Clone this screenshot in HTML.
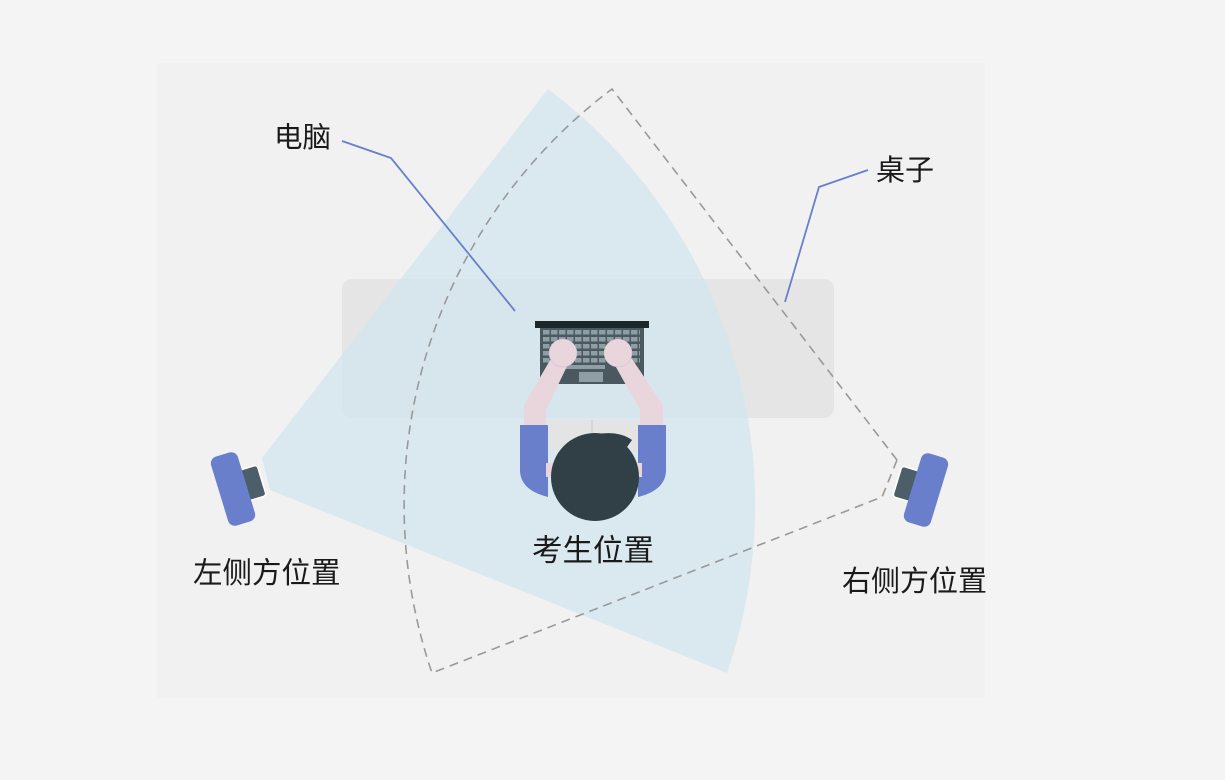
<!DOCTYPE html>
<html><head><meta charset="utf-8"><style>
html,body{margin:0;padding:0;background:#f4f4f4;}
svg{display:block;}
text{font-family:"Liberation Sans","Noto Sans CJK SC",sans-serif;fill:#1a1a1a;}
</style></head><body>
<svg width="1225" height="780" viewBox="0 0 1225 780" xmlns="http://www.w3.org/2000/svg">
<defs>
<pattern id="keys" x="543" y="330" width="8" height="7" patternUnits="userSpaceOnUse">
<rect x="0" y="0" width="6.5" height="4.5" fill="#8e9ea4"/>
</pattern>
</defs>
<rect x="0" y="0" width="1225" height="780" fill="#f4f4f4"/>
<rect x="157" y="63" width="828" height="635" fill="#f1f1f1"/>
<!-- desk -->
<rect x="342" y="279" width="492" height="139" rx="10" fill="#e5e5e5"/>
<!-- blue sector -->
<path d="M548,89 A520,520 0 0 1 727,673 L270,490 L262,458 Z" fill="#d2e5ef" fill-opacity="0.75"/>
<!-- dashed sector -->
<path d="M897,460 L612,89 A520,520 0 0 0 432,673 L882,497 Z" fill="none" stroke="#999" stroke-width="1.6" stroke-dasharray="9,6"/>
<!-- laptop -->
<rect x="540" y="327" width="104" height="57" fill="#4a5960"/>
<rect x="535" y="321" width="114" height="7" fill="#1c272c"/>
<rect x="543" y="330" width="97" height="34" fill="url(#keys)"/>
<rect x="565" y="365" width="40" height="4" fill="#8e9ea4"/>
<rect x="579" y="372" width="24" height="10" fill="#8e9ea4"/>
<!-- arms -->
<path d="M556,350 L570,360 L546,410 L546,425 L524,425 L524,405 Z" fill="#e8d6dc"/>
<path d="M626,350 L612,360 L640,410 L640,425 L663,425 L663,405 Z" fill="#e8d6dc"/>
<circle cx="563" cy="353" r="14" fill="#e8d6dc" stroke="#c9b6cc" stroke-width="0.5"/>
<circle cx="618" cy="353" r="14" fill="#e8d6dc" stroke="#c9b6cc" stroke-width="0.5"/>
<!-- shirt & sleeves -->
<rect x="548" y="420" width="92" height="30" fill="#e4e4e4"/>
<line x1="592" y1="420" x2="592" y2="450" stroke="#c8c8c8"/>
<path d="M520,425 L548,425 L548,497 Q520,490 520,470 Z" fill="#6a7fcc"/>
<path d="M666,425 L638,425 L638,497 Q666,490 666,470 Z" fill="#6a7fcc"/>
<rect x="546" y="463" width="8" height="14" fill="#e8d6dc"/>
<rect x="634" y="463" width="8" height="14" fill="#e8d6dc"/>
<circle cx="595" cy="477" r="44" fill="#313f46"/>
<path d="M585,437 Q615,428 632,440 L625,450 Z" fill="#313f46"/>
<!-- left camera -->
<g transform="translate(233,489) rotate(-17)">
<rect x="10" y="-16" width="20" height="32" rx="3" fill="#4b5e69" stroke="#fff" stroke-width="1.5"/>
<rect x="-14" y="-36" width="28" height="72" rx="7" fill="#6a7fcc"/>
</g>
<!-- right camera -->
<g transform="translate(926,490) rotate(17)">
<rect x="-30" y="-16" width="20" height="32" rx="3" fill="#4b5e69" stroke="#fff" stroke-width="1.5"/>
<rect x="-14" y="-36" width="28" height="72" rx="7" fill="#6a7fcc"/>
</g>
<!-- leader lines -->
<polyline points="342,141 391,158 515,311" fill="none" stroke="#6a7fcc" stroke-width="1.8"/>
<polyline points="868,170 819,187 785,302" fill="none" stroke="#6a7fcc" stroke-width="1.8"/>
<!-- labels -->
<text x="274" y="147" font-size="28.5">电脑</text>
<text x="876" y="180" font-size="29">桌子</text>
<text x="193" y="583" font-size="29.5">左侧方位置</text>
<text x="532" y="561" font-size="30.5">考生位置</text>
<text x="842" y="591" font-size="29">右侧方位置</text>
</svg>
</body></html>
